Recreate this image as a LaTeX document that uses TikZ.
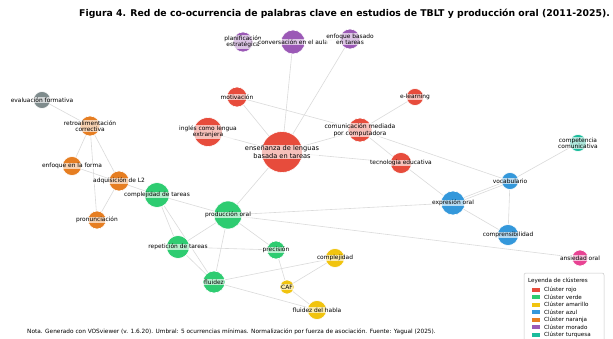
\documentclass[tikz,border=0pt]{standalone}
\usepackage{fontspec}
\setmainfont{DejaVu Sans}
\usetikzlibrary{backgrounds}
\definecolor{cred}{HTML}{E74C3C}
\definecolor{cgreen}{HTML}{2ECC71}
\definecolor{cyellow}{HTML}{F1C40F}
\definecolor{cblue}{HTML}{3498DB}
\definecolor{corange}{HTML}{E67E22}
\definecolor{cpurple}{HTML}{9B59B6}
\definecolor{cteal}{HTML}{1ABC9C}
\definecolor{cpink}{HTML}{E84393}
\definecolor{cgray}{HTML}{7F8C8D}
\definecolor{edgec}{HTML}{DADADA}
\begin{document}
\begin{tikzpicture}[x=1pt,y=-1pt,
 kwc/.style={circle,draw=white,line width=0.6pt,inner sep=0pt},
 kwl/.style={font=\fontsize{5.9}{6.3}\selectfont,align=center,fill=white,fill opacity=0.65,text opacity=1,inner sep=0.4pt},
 edge/.style={draw=edgec,line width=0.6pt},
 legtxt/.style={font=\fontsize{5.6}{6}\selectfont,anchor=west,inner sep=0pt},
 legsq/.style={minimum width=8pt,minimum height=4pt,inner sep=0pt}]
\useasboundingbox (0,0) rectangle (613,339);
\clip (0,0) rectangle (613,339);

\node[font=\bfseries\fontsize{9.3}{11}\selectfont,anchor=east,inner sep=0pt] (title) at (610,14) {Figura 4. Red de co-ocurrencia de palabras clave en estudios de TBLT y producción oral (2011-2025).};

% purple
\node[kwc,fill=cpurple,minimum size=20pt] (plan) at (243,42) {};
\node[kwc,fill=cpurple,minimum size=24pt] (conv) at (293,42) {};
\node[kwc,fill=cpurple,minimum size=20pt] (enfb) at (350,39) {};
% red
\node[kwc,fill=cred,minimum size=20pt] (moti) at (237,97) {};
\node[kwc,fill=cred,minimum size=29pt] (ingl) at (208,132) {};
\node[kwc,fill=cred,minimum size=41pt] (ense) at (282,152) {};
\node[kwc,fill=cred,minimum size=24pt] (comu) at (360,130) {};
\node[kwc,fill=cred,minimum size=17pt] (elea) at (415,97) {};
\node[kwc,fill=cred,minimum size=21pt] (tecn) at (401,163) {};
% teal
\node[kwc,fill=cteal,minimum size=17pt] (comp) at (578,143) {};
% blue
\node[kwc,fill=cblue,minimum size=17pt] (voca) at (510,181) {};
\node[kwc,fill=cblue,minimum size=24pt] (expr) at (453,203) {};
\node[kwc,fill=cblue,minimum size=21pt] (cprn) at (508,235) {};
% pink
\node[kwc,fill=cpink,minimum size=16pt] (ansi) at (580,258) {};
% green
\node[kwc,fill=cgreen,minimum size=25pt] (cdta) at (157,195) {};
\node[kwc,fill=cgreen,minimum size=28pt] (prod) at (228,215) {};
\node[kwc,fill=cgreen,minimum size=23pt] (repe) at (178,247) {};
\node[kwc,fill=cgreen,minimum size=18pt] (prec) at (276,250) {};
\node[kwc,fill=cgreen,minimum size=22pt] (flui) at (214,282) {};
% yellow
\node[kwc,fill=cyellow,minimum size=19pt] (cplj) at (335,258) {};
\node[kwc,fill=cyellow,minimum size=14pt] (caf) at (287,287) {};
\node[kwc,fill=cyellow,minimum size=19pt] (fhab) at (317,310) {};
% orange
\node[kwc,fill=corange,minimum size=20pt] (retr) at (90,126) {};
\node[kwc,fill=corange,minimum size=19pt] (fofo) at (72,166) {};
\node[kwc,fill=corange,minimum size=20pt] (adqu) at (119,181) {};
\node[kwc,fill=corange,minimum size=18pt] (pron) at (97,220) {};
% gray
\node[kwc,fill=cgray,minimum size=17pt] (eval) at (42,100) {};

\begin{pgfonlayer}{background}
\draw[edge] (plan) -- (conv);
\draw[edge] (conv) -- (enfb);
\draw[edge] (conv) -- (ense);
\draw[edge] (enfb) -- (ense);
\draw[edge] (moti) -- (ense);
\draw[edge] (moti) -- (comu);
\draw[edge] (ingl) -- (ense);
\draw[edge] (ense) -- (comu);
\draw[edge] (ense) -- (tecn);
\draw[edge] (ense) -- (prod);
\draw[edge] (comu) -- (elea);
\draw[edge] (comu) -- (tecn);
\draw[edge] (comu) -- (voca);
\draw[edge] (tecn) -- (expr);
\draw[edge] (comp) -- (voca);
\draw[edge] ([yshift=-1.2pt]voca.center) -- ([yshift=-1.2pt]expr.center);
\draw[edge] ([yshift=1.2pt]voca.center) -- ([yshift=1.2pt]expr.center);
\draw[edge] (voca) -- (cprn);
\draw[edge] (expr) -- (cprn);
\draw[edge] (expr) -- (prod);
\draw[edge] (prod) -- (ansi);
\draw[edge] (prod) -- (cdta);
\draw[edge] (prod) -- (repe);
\draw[edge] (prod) -- (prec);
\draw[edge] (prod) -- (flui);
\draw[edge] (cdta) -- (repe);
\draw[edge] (cdta) -- (flui);
\draw[edge] (repe) -- (prec);
\draw[edge] (repe) -- (flui);
\draw[edge] (flui) -- (cplj);
\draw[edge] (flui) -- (fhab);
\draw[edge] (prec) -- (caf);
\draw[edge] (caf) -- (cplj);
\draw[edge] (caf) -- (fhab);
\draw[edge] (eval) -- (retr);
\draw[edge] (retr) -- (fofo);
\draw[edge] (retr) -- (adqu);
\draw[edge] (retr) -- (pron);
\draw[edge] (fofo) -- (cdta);
\draw[edge] (adqu) -- (pron);
\end{pgfonlayer}

% labels
\node[kwl] at (plan) {planificación\\estratégica};
\node[kwl] at (conv) {conversación en el aula};
\node[kwl] at (enfb) {enfoque basado\\en tareas};
\node[kwl] at (moti) {motivación};
\node[kwl] at (ingl) {inglés como lengua\\extranjera};
\node[kwl,font=\fontsize{6.6}{7.2}\selectfont] at (ense) {enseñanza de lenguas\\basada en tareas};
\node[kwl,font=\fontsize{6.1}{6.6}\selectfont] at (comu) {comunicación mediada\\por computadora};
\node[kwl] at (elea) {e-learning};
\node[kwl] at (tecn) {tecnología educativa};
\node[kwl] at (comp) {competencia\\comunicativa};
\node[kwl] at (voca) {vocabulario};
\node[kwl] at (expr) {expresión oral};
\node[kwl] at (cprn) {comprensibilidad};
\node[kwl] at (ansi) {ansiedad oral};
\node[kwl] at (cdta) {complejidad de tareas};
\node[kwl] at (prod) {producción oral};
\node[kwl] at (repe) {repetición de tareas};
\node[kwl] at (prec) {precisión};
\node[kwl] at (flui) {fluidez};
\node[kwl] at (cplj) {complejidad};
\node[kwl] at (caf) {CAF};
\node[kwl] at (fhab) {fluidez del habla};
\node[kwl] at (retr) {retroalimentación\\correctiva};
\node[kwl] at (fofo) {enfoque en la forma};
\node[kwl] at (adqu) {adquisición de L2};
\node[kwl] at (pron) {pronunciación};
\node[kwl] at (eval) {evaluación formativa};

% legend
\draw[draw=black!22,fill=white,rounded corners=2pt,line width=0.5pt] (524,273) rectangle (604,350);
\node[legtxt] (legt) at (528,281) {Leyenda de clústeres};
\node[legsq,fill=cred] (l1) at (536,289.5) {};
\node[legtxt] at (544,289.5) {Clúster rojo};
\node[legsq,fill=cgreen] (l2) at (536,297) {};
\node[legtxt] at (544,297) {Clúster verde};
\node[legsq,fill=cyellow] (l3) at (536,304.5) {};
\node[legtxt] at (544,304.5) {Clúster amarillo};
\node[legsq,fill=cblue] (l4) at (536,312) {};
\node[legtxt] at (544,312) {Clúster azul};
\node[legsq,fill=corange] (l5) at (536,319.5) {};
\node[legtxt] at (544,319.5) {Clúster naranja};
\node[legsq,fill=cpurple] (l6) at (536,327) {};
\node[legtxt] at (544,327) {Clúster morado};
\node[legsq,fill=cteal] (l7) at (536,334.5) {};
\node[legtxt] at (544,334.5) {Clúster turquesa};

% note
\node[font=\fontsize{5.8}{6.2}\selectfont,anchor=west,inner sep=0pt] (note) at (27,332) {Nota. Generado con VOSviewer (v. 1.6.20). Umbral: 5 ocurrencias mínimas. Normalización por fuerza de asociación. Fuente: Yagual (2025).};
\end{tikzpicture}
\end{document}
